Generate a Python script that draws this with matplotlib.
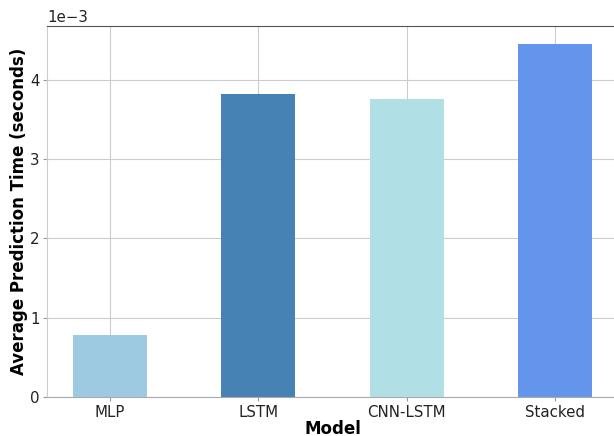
import matplotlib.pyplot as plt
import numpy as np

models = ["MLP", "LSTM", "CNN-LSTM", "Stacked"]
pred_time = [0.00078, 0.00382, 0.00376, 0.004455]
bar_colors = ["#9ecae1", "#4682b4", "#b0e0e6", "#6495ed"]


def main():
    fig = plt.figure(figsize=(6.14, 4.36), dpi=100)
    ax = fig.add_axes([47 / 614, 39 / 436, 571 / 614, 371 / 436])

    x = np.arange(len(models))
    ax.bar(x, pred_time, width=0.5, color=bar_colors, edgecolor="none", zorder=2)

    ax.set_xticks(x)
    ax.set_xticklabels(models, fontsize=10.8, color="#222222")
    ax.tick_params(axis="y", labelsize=10.8, labelcolor="#222222")
    ax.tick_params(axis="both", length=3, color="#999999", pad=2.5)
    ax.ticklabel_format(axis="y", style="sci", scilimits=(0, 0))
    ax.yaxis.get_offset_text().set_fontsize(10.8)

    ax.set_xlabel("Model", fontsize=12, fontweight="bold", labelpad=0)
    ax.set_ylabel("Average Prediction Time (seconds)", fontsize=12, fontweight="bold", labelpad=1)

    ax.grid(True, color="#cccccc", lw=0.8)
    ax.set_axisbelow(True)

    ax.spines["top"].set_color("#555555")
    ax.spines["left"].set_color("#cccccc")
    ax.spines["bottom"].set_color("#aaaaaa")
    ax.spines["right"].set_visible(False)

    fig.savefig("out.png", dpi=100)


if __name__ == "__main__":
    main()
